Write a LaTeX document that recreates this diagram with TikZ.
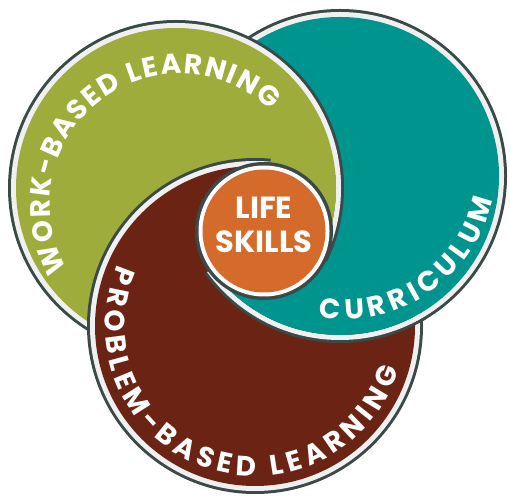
\documentclass[tikz,border=0pt]{standalone}
\usepackage{fontspec}
\setmainfont{Poppins}
\usetikzlibrary{calc,decorations.text}
\definecolor{greenc}{HTML}{9EAC3B}
\definecolor{tealc}{HTML}{00948F}
\definecolor{brownc}{HTML}{6B2414}
\definecolor{orangec}{HTML}{D46B2A}
\definecolor{ringlight}{HTML}{F0F0F0}
\definecolor{edgedark}{HTML}{3B4A49}
% full disc: dark rim, light ring, coloured face
\newcommand{\ringdisc}[3]{%
  \fill[edgedark] (#1) circle[radius=#2];
  \fill[ringlight] (#1) circle[radius=#2-3];
  \fill[#3] (#1) circle[radius=#2-8];}
% same disc drawn as non-overlapping pieces (for clipped redraws)
\newcommand{\ringann}[3]{%
  \fill[edgedark, even odd rule] (#1) circle[radius=#2] (#1) circle[radius=#2-3];
  \fill[ringlight, even odd rule] (#1) circle[radius=#2-3] (#1) circle[radius=#2-8];
  \fill[#3] (#1) circle[radius=#2-8];}
\newcommand{\circfont}{\bfseries\fontsize{28}{32}\selectfont}
\newcommand{\lifefont}{\bfseries\fontsize{30.5}{33.5}\selectfont}
\tikzset{
  arctext/.style={decorate, decoration={text along path, text={|\circfont|#1},
    text align=fit to path, text color=white}}
}
\begin{document}
\begin{tikzpicture}[x=1pt,y=1pt]
\useasboundingbox (0,0) rectangle (510,497);
\coordinate (G) at (176,309);
\coordinate (T) at (340,321);
\coordinate (B) at (255,171);
\coordinate (O) at (264,266);
\coordinate (gtext) at (180,293);
\coordinate (ttext) at (345,329);
\coordinate (rB) at ($(O)!-15!(B)$);
\coordinate (rG) at ($(O)!-15!(G)$);
\coordinate (rT) at ($(O)!-15!(T)$);
% base layer: teal, green, brown
\ringdisc{T}{167}{tealc}
\ringdisc{G}{168}{greenc}
\ringdisc{B}{168}{brownc}
% teal over brown on the right and bottom
\begin{scope}
  \clip (O) -- (rB) -- (rG) -- (rT) -- cycle;
  \clip (B) circle[radius=171];
  \ringann{T}{167}{tealc}
\end{scope}
% green over brown and teal at the upper right
\begin{scope}
  \clip (O) -- (rB) -- (rG) -- cycle;
  \clip (B) circle[radius=175];
  \ringann{G}{168}{greenc}
\end{scope}
% life skills
\fill[edgedark] (O) circle[radius=69];
\fill[white] (O) circle[radius=65.5];
\fill[orangec] (O) circle[radius=61.5];
\node[text=white, font=\lifefont, align=center, inner sep=0pt] (life) at (264,272) {LIFE\\SKILLS};
% texts along the circles
\path[arctext={WORK-BASED LEARNING}] ($(gtext)+(210:130)$) arc[start angle=210, end angle=46, radius=130];
\path[arctext={CURRICULUM}] ($(ttext)+(-100:151)$) arc[start angle=-100, end angle=-12, radius=151];
\path[arctext={PROBLEM-BASED LEARNING}] ($(B)+(156:150)$) arc[start angle=156, end angle=343, radius=150];
\end{tikzpicture}
\end{document}
